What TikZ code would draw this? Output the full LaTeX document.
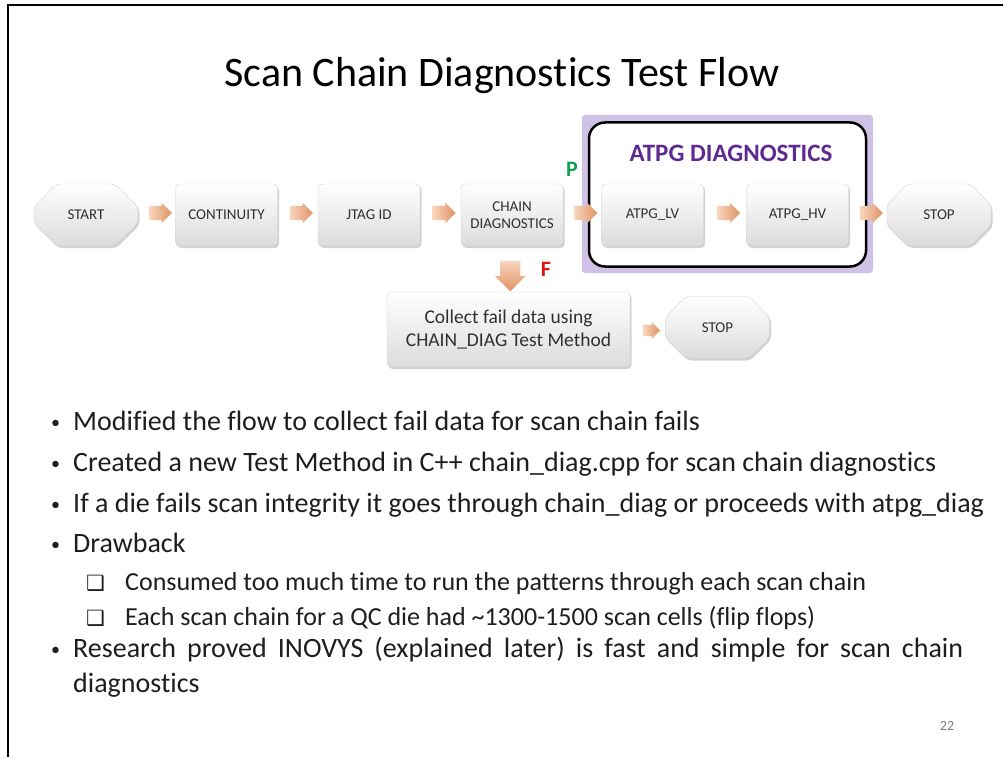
\documentclass[tikz,border=0pt]{standalone}
\usepackage{fontspec}
\setmainfont{Carlito}[Ligatures=NoCommon]
\newfontfamily\symfont{DejaVu Sans}
\usetikzlibrary{shapes.misc,shapes.arrows,shadows,calc}
\definecolor{txt}{HTML}{1E1E1E}
\definecolor{boxtxt}{HTML}{303030}
\definecolor{arrowA}{HTML}{F9D6BE}
\definecolor{arrowB}{HTML}{DF9264}
\definecolor{glow}{HTML}{D0C2E6}
\definecolor{atpgpurple}{HTML}{5E2A90}
\definecolor{pgreen}{HTML}{12A150}
\definecolor{fred}{HTML}{E01414}
\begin{document}
\begin{tikzpicture}[x=1pt,y=-1pt,
  stepbox/.style={rectangle, rounded corners=4pt, draw=gray!35, top color=white, bottom color=gray!28,
    drop shadow={opacity=0.35, shadow xshift=1.5pt, shadow yshift=-2pt, fill=gray},
    minimum width=102pt, minimum height=62pt, align=center,
    font=\fontsize{15}{17.5}\selectfont, text=boxtxt, inner sep=2pt},
  octbox/.style={stepbox, chamfered rectangle, chamfered rectangle xsep=18pt, chamfered rectangle ysep=18pt,
    minimum width=104pt, minimum height=62pt, inner sep=0pt},
  flowarrow/.style={single arrow, left color=arrowA, right color=arrowB, draw=none,
    minimum height=23pt, single arrow head extend=3pt, inner sep=7pt},
  bullettext/.style={anchor=base west, inner sep=0pt, font=\fontsize{28}{33}\selectfont, text=txt},
  subtext/.style={anchor=base west, inner sep=0pt, font=\fontsize{26}{30}\selectfont, text=txt},
  dot/.style={anchor=base west, inner sep=0pt, font=\fontsize{18}{22}\selectfont, text=txt},
  sqbox/.style={anchor=base west, inner sep=0pt, font=\symfont\fontsize{21}{24}\selectfont, text=txt}
]
\useasboundingbox (0,0) rectangle (1003,757);
\fill[white] (0,0) rectangle (1003,757);
% frame
\draw[line width=2.5pt, black] (8,757) -- (8,5) -- (1003,5);

% title
\node[inner sep=0pt, font=\fontsize{42}{48}\selectfont, text=black] (title) at (502,76) {Scan Chain Diagnostics Test Flow};

% ATPG group
\node[fill=glow, rounded corners=3pt, minimum width=291pt, minimum height=158pt, inner sep=0pt] (glow) at (727.5,194) {};
\node[draw=black, line width=2.5pt, fill=white, rounded corners=16pt, minimum width=277pt, minimum height=144pt, inner sep=0pt] (grp) at (727.5,194.5) {};
\node[inner sep=0pt, font=\bfseries\fontsize{25}{29}\selectfont, text=atpgpurple] (grplabel) at (731,153) {ATPG DIAGNOSTICS};

% flow boxes
\node[octbox] (start) at (86,215) {START};
\node[stepbox] (cont) at (226.5,215) {CONTINUITY};
\node[stepbox] (jtag) at (369,215) {JTAG ID};
\node[stepbox] (chain) at (512,215) {CHAIN\\DIAGNOSTICS};
\node[stepbox] (lv) at (652.5,215) {ATPG\_LV};
\node[stepbox] (hv) at (797.5,215) {ATPG\_HV};
\node[octbox] (stop) at (939,215) {STOP};

\node[stepbox, minimum width=243pt, minimum height=75pt, font=\fontsize{19.5}{23}\selectfont] (collect) at (508.5,329.5) {Collect fail data using\\CHAIN\_DIAG Test Method};
\node[octbox] (stop2) at (717.5,327.5) {STOP};

% arrows
\node[flowarrow] (a1) at ($(start.east)!0.5!(cont.west)+(0,-2)$) {};
\node[flowarrow] (a2) at ($(cont.east)!0.5!(jtag.west)+(0,-2)$) {};
\node[flowarrow] (a3) at ($(jtag.east)!0.5!(chain.west)+(0,-2)$) {};
\node[flowarrow] (a4) at ($(chain.east)!0.5!(lv.west)+(0,-2)$) {};
\node[flowarrow] (a5) at ($(lv.east)!0.5!(hv.west)+(0,-2)$) {};
\node[flowarrow] (a6) at ($(hv.east)!0.5!(stop.west)+(0,-2)$) {};
\node[flowarrow, minimum height=17pt, inner sep=5.5pt, single arrow head extend=2.5pt] (a7) at ($(collect.east)!0.5!(stop2.west)+(1,2)$) {};
\node[single arrow, shape border rotate=270, top color=arrowA, bottom color=arrowB, draw=none,
  minimum height=27pt, single arrow head extend=5pt, inner sep=10pt] (a8) at ($(chain.south)!0.5!(collect.north)+(0,2)$) {};

% P / F labels
\node[inner sep=0pt, font=\bfseries\fontsize{22}{25}\selectfont, text=pgreen] (plabel) at (572,169) {P};
\node[inner sep=0pt, font=\bfseries\fontsize{22}{25}\selectfont, text=fred] (flabel) at (546,269) {F};

% bullets
\node[dot] (d1) at (51,428) {•};
\node[bullettext] (b1) at (73,430) {Modified the flow to collect fail data for scan chain fails};
\node[dot] (d2) at (51,469) {•};
\node[bullettext] (b2) at (73,471) {Created a new Test Method in C++ chain\_diag.cpp for scan chain diagnostics};
\node[dot] (d3) at (51,510) {•};
\node[bullettext] (b3) at (73,512) {If a die fails scan integrity it goes through chain\_diag or proceeds with atpg\_diag};
\node[dot] (d4) at (51,550) {•};
\node[bullettext] (b4) at (73,552) {Drawback};
\node[sqbox] (s1) at (86,590) {❑};
\node[subtext] (t1) at (125,590) {Consumed too much time to run the patterns through each scan chain};
\node[sqbox] (s2) at (86,625) {❑};
\node[subtext] (t2) at (125,625) {Each scan chain for a QC die had \textasciitilde 1300-1500 scan cells (flip flops)};
\node[dot] (d5) at (51,655) {•};
\node[bullettext] (b5) at (73,657) {\makebox[890pt][s]{Research proved INOVYS (explained later) is fast and simple for scan chain}};
\node[bullettext] (b6) at (73,692) {diagnostics};

% page number
\node[inner sep=0pt, font=\fontsize{14}{16}\selectfont, text=gray] (pg) at (947,726) {22};
\end{tikzpicture}
\end{document}
